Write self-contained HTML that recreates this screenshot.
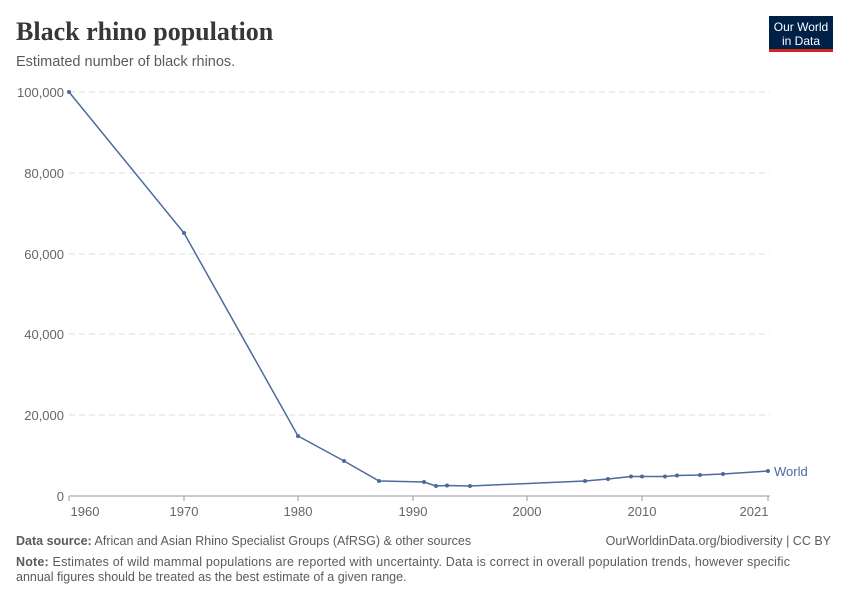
<!DOCTYPE html>
<html><head><meta charset="utf-8"><style>
body{margin:0;background:#fff;width:850px;height:600px;overflow:hidden;font-family:"Liberation Sans",sans-serif;}
</style></head><body>
<svg width="850" height="600" xmlns="http://www.w3.org/2000/svg" font-family="Liberation Sans, sans-serif">
<text x="16" y="40" font-family="Liberation Serif, serif" font-size="26" font-weight="bold" fill="#373737">Black rhino population</text>
<text x="16" y="66" font-size="14.5" fill="#5b5b5b">Estimated number of black rhinos.</text>
<rect x="769" y="16" width="64" height="34" fill="#002147"/>
<rect x="769" y="49" width="64" height="3" fill="#ce261e"/>
<text x="801" y="31" font-size="12" fill="#fff" text-anchor="middle">Our World</text>
<text x="801" y="45" font-size="12" fill="#fff" text-anchor="middle">in Data</text>
<g stroke="#ddd" stroke-dasharray="6,4">
<line x1="69" x2="770" y1="92" y2="92"/><line x1="69" x2="770" y1="173" y2="173"/><line x1="69" x2="770" y1="254" y2="254"/><line x1="69" x2="770" y1="334" y2="334"/><line x1="69" x2="770" y1="415" y2="415"/>
</g>
<line x1="69" x2="770" y1="496" y2="496" stroke="#999"/>
<g font-size="13" fill="#666" text-anchor="end">
<text x="64" y="97">100,000</text><text x="64" y="178">80,000</text><text x="64" y="259">60,000</text><text x="64" y="339">40,000</text><text x="64" y="420">20,000</text><text x="64" y="501">0</text>
</g>
<g stroke="#999"><line x1="69" x2="69" y1="496" y2="501"/><line x1="184" x2="184" y1="496" y2="501"/><line x1="298" x2="298" y1="496" y2="501"/><line x1="413" x2="413" y1="496" y2="501"/><line x1="527" x2="527" y1="496" y2="501"/><line x1="642" x2="642" y1="496" y2="501"/><line x1="768" x2="768" y1="496" y2="501"/></g>
<g font-size="13" fill="#666" text-anchor="middle">
<text x="85" y="516">1960</text><text x="184" y="516">1970</text><text x="298" y="516">1980</text><text x="413" y="516">1990</text><text x="527" y="516">2000</text><text x="642" y="516">2010</text><text x="754" y="516">2021</text>
</g>
<polyline fill="none" stroke="#4c6a9c" stroke-width="1.5" points="69,92 184,233 298,436 344,461 379,481 424,482 436,486 447,485.5 470,486 585,481 608,479 631,476.5 642,476.5 665,476.5 677,475.5 700,475 723,474 768,471"/>
<g fill="#4c6a9c">
<circle cx="69" cy="92" r="2"/><circle cx="184" cy="233" r="2"/><circle cx="298" cy="436" r="2"/><circle cx="344" cy="461" r="2"/><circle cx="379" cy="481" r="2"/><circle cx="424" cy="482" r="2"/><circle cx="436" cy="486" r="2"/><circle cx="447" cy="485.5" r="2"/><circle cx="470" cy="486" r="2"/><circle cx="585" cy="481" r="2"/><circle cx="608" cy="479" r="2"/><circle cx="631" cy="476.5" r="2"/><circle cx="642" cy="476.5" r="2"/><circle cx="665" cy="476.5" r="2"/><circle cx="677" cy="475.5" r="2"/><circle cx="700" cy="475" r="2"/><circle cx="723" cy="474" r="2"/><circle cx="768" cy="471" r="2"/>
</g>
<text x="774" y="476" font-size="13" fill="#4c6a9c">World</text>
<text x="16" y="545" font-size="12.5" fill="#5b5b5b"><tspan font-weight="bold">Data source:</tspan> African and Asian Rhino Specialist Groups (AfRSG) &amp; other sources</text>
<text x="831" y="545" font-size="12.5" fill="#5b5b5b" text-anchor="end">OurWorldinData.org/biodiversity | CC BY</text>
<text x="16" y="566" font-size="12.5" fill="#5b5b5b" textLength="774" lengthAdjust="spacing"><tspan font-weight="bold">Note:</tspan> Estimates of wild mammal populations are reported with uncertainty. Data is correct in overall population trends, however specific</text>
<text x="16" y="581" font-size="12.5" fill="#5b5b5b">annual figures should be treated as the best estimate of a given range.</text>
</svg>
</body></html>
